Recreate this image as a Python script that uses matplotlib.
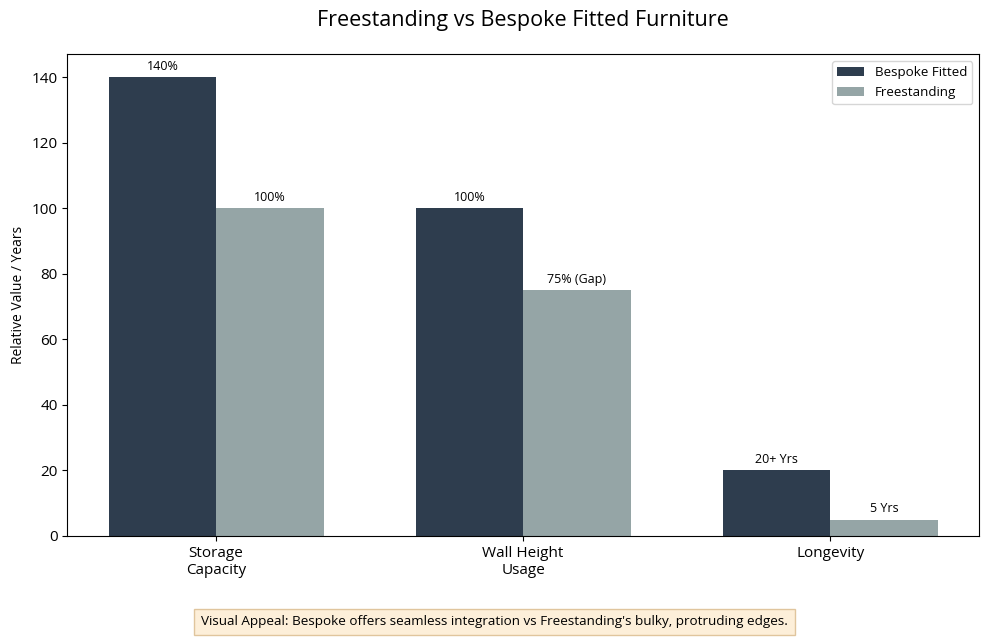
import matplotlib
matplotlib.use("Agg")
import matplotlib.pyplot as plt
import numpy as np

plt.rcParams['font.family'] = ['Open Sans', 'DejaVu Sans']

categories = ["Storage\nCapacity", "Wall Height\nUsage", "Longevity"]
bespoke = [140, 100, 20]
freestanding = [100, 75, 5]
bespoke_labels = ["140%", "100%", "20+ Yrs"]
freestanding_labels = ["100%", "75% (Gap)", "5 Yrs"]

x = np.arange(len(categories))
width = 0.35

fig, ax = plt.subplots(figsize=(9.89, 6.38), dpi=100)
fig.subplots_adjust(left=0.068, right=0.99, top=0.915, bottom=0.16)

b1 = ax.bar(x - width / 2, bespoke, width, label="Bespoke Fitted", color="#2e3d4e")
b2 = ax.bar(x + width / 2, freestanding, width, label="Freestanding", color="#95a5a6")

for bar, txt in zip(b1, bespoke_labels):
    ax.annotate(txt, (bar.get_x() + bar.get_width() / 2, bar.get_height()),
                xytext=(0, 3), textcoords="offset points", ha="center", va="bottom", fontsize=9)
for bar, txt in zip(b2, freestanding_labels):
    ax.annotate(txt, (bar.get_x() + bar.get_width() / 2, bar.get_height()),
                xytext=(0, 3), textcoords="offset points", ha="center", va="bottom", fontsize=9)

ax.set_xticks(x)
ax.set_xticklabels(categories, fontsize=11)
ax.tick_params(axis="y", labelsize=11)
ax.set_ylabel("Relative Value / Years", fontsize=10)
ax.set_title("Freestanding vs Bespoke Fitted Furniture", fontsize=15.5, pad=20)
ax.legend(fontsize=9.6)

fig.text(0.5, 0.02, "Visual Appeal: Bespoke offers seamless integration vs Freestanding's bulky, protruding edges.",
         ha="center", fontsize=9.7,
         bbox=dict(facecolor="#fdebd0", edgecolor="#d9b98a", alpha=0.8, boxstyle="square,pad=0.5"))

fig.savefig("out.png", dpi=100)
